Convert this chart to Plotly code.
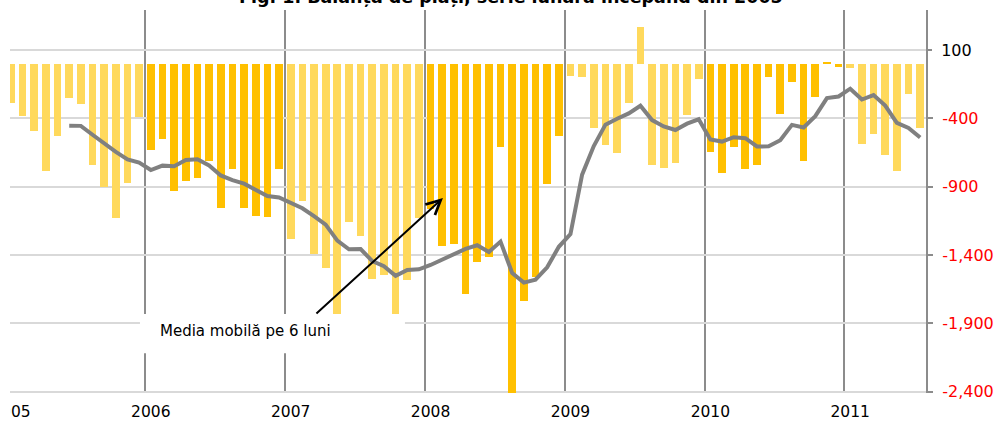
import plotly.graph_objects as go

# ---- data (million EUR) ----
years = ["2005", "2006", "2007", "2008", "2009", "2010", "2011"]

bal_2005 = [-290, -383, -492, -787, -527, -249, -295, -739, -905, -1131, -870, -390]
bal_2006 = [-629, -549, -929, -858, -834, -710, -1054, -773, -1054, -1112, -1119, -768]
bal_2007 = [-1283, -1005, -1392, -1493, -1840, -1156, -1261, -1575, -1546, -1940, -1583, -1131]
bal_2008 = [-1060, -1332, -1322, -1687, -1453, -1417, -607, -2700, -1734, -1558, -883, -527]
bal_2009 = [-88, -95, -473, -595, -656, -285, 266, -744, -761, -724, -373, -110]
bal_2010 = [-644, -797, -607, -768, -741, -95, -368, -132, -710, -241, 12, -22]
bal_2011 = [-29, -590, -517, -666, -783, -224, -468]

# 6-month moving average, from June 2005 onwards
moving_avg = [
    -454, -455, -520, -587, -645, -700, -723,
    -778, -746, -750, -705, -700, -745, -818, -852, -878, -924, -969, -979,
    -1016, -1058, -1116, -1178, -1295, -1358, -1357, -1445, -1482, -1553, -1510, -1505,
    -1473, -1435, -1398, -1355, -1329, -1378, -1302, -1532, -1602, -1581, -1490, -1340,
    -1247, -812, -603, -446, -403, -364, -308, -413, -459, -485, -439, -407,
    -555, -570, -538, -545, -606, -605, -560, -448, -467, -384, -252, -240,
    -183, -262, -230, -306, -433, -470, -540,
]

pos_tickvals = [100]
pos_ticklabels = ["100"]
neg_tickvals = [-400, -900, -1400, -1900, -2400]
neg_ticklabels = ["-400", "-900", "-1,400", "-1,900", "-2,400"]

title_text = "Fig. 1. Balanța de plăți, serie lunară începând din 2005"
note_text = "Media mobilă pe 6 luni"

# ---- build series ----
LIGHT = "#FFD95C"
DARK = "#FFC000"
per_year = [bal_2005, bal_2006, bal_2007, bal_2008, bal_2009, bal_2010, bal_2011]
values, colors = [], []
for k, arr in enumerate(per_year):
    values += arr
    colors += [LIGHT if k % 2 == 0 else DARK] * len(arr)
idx = list(range(len(values)))
ma_x = idx[len(idx) - len(moving_avg):]

year_pos = [12 * k for k in range(len(years))]
year_bounds = [12 * k - 0.5 for k in range(1, len(years))]
month_bounds = [i + 0.5 for i in idx[:-1]]

FONT = "DejaVu Sans"
GRAY = "#8c8c8c"
GRID = "#d9d9d9"
XR = [-0.08, 78.5]
YR = [-2410, 393]

fig = go.Figure()
fig.add_trace(go.Bar(x=idx, y=values, width=0.66,
                     marker=dict(color=colors, line=dict(width=0)),
                     hoverinfo="skip", showlegend=False))
fig.add_trace(go.Scatter(x=ma_x, y=moving_avg, mode="lines",
                         line=dict(color="#808080", width=4),
                         hoverinfo="skip", showlegend=False))
# empty trace so the secondary (black "100") axis is rendered
fig.add_trace(go.Scatter(x=[None], y=[None], yaxis="y2", mode="lines",
                         hoverinfo="skip", showlegend=False))

zero_pos = (0 - YR[0]) / (YR[1] - YR[0])

yaxis_common = dict(range=YR, side="right", tickmode="array",
                    showgrid=True, gridcolor=GRID, gridwidth=2, zeroline=False,
                    ticks="outside", ticklen=5, tickwidth=2, tickcolor=GRAY,
                    automargin=False, ticklabelstandoff=6)

fig.update_layout(
    width=998, height=423,
    margin=dict(l=10, r=72, t=10, b=30, pad=0, autoexpand=False),
    paper_bgcolor="white", plot_bgcolor="white",
    showlegend=False, bargap=0,
    font=dict(family=FONT, size=15, color="black"),
    xaxis=dict(range=XR, tickmode="array", tickvals=year_pos, ticktext=years,
               ticks="", showline=False, showgrid=False, zeroline=False,
               automargin=False,
               tickfont=dict(family=FONT, size=15.5, color="black"),
               ticklabelstandoff=7, ticklabeloverflow="allow",
               minor=dict(tickmode="array", tickvals=year_bounds, showgrid=True,
                          gridcolor=GRAY, gridwidth=2, ticks="")),
    xaxis2=dict(range=XR, overlaying="x", anchor="free", position=zero_pos,
                side="bottom", tickmode="array", tickvals=month_bounds,
                ticks="outside", ticklen=4, tickwidth=2, tickcolor=GRAY,
                showticklabels=False, showline=True, linecolor=GRAY, linewidth=2,
                showgrid=False, zeroline=False, automargin=False),
    yaxis=dict(tickvals=neg_tickvals, ticktext=neg_ticklabels,
               showline=True, linecolor=GRAY, linewidth=2,
               tickfont=dict(family=FONT, size=16, color="#ff0000"),
               **yaxis_common),
    yaxis2=dict(overlaying="y", anchor="x", tickvals=pos_tickvals, ticktext=pos_ticklabels,
                showline=False,
                tickfont=dict(family=FONT, size=16, color="black"),
                **yaxis_common),
)

# white label box (covers grid lines, as in the reference)
fig.add_shape(type="rect", xref="x", yref="y", x0=11.07, x1=33.8, y0=-1831, y1=-2120,
              fillcolor="white", line=dict(width=0), layer="above")
# the chart area clips the first year label at its left edge
fig.add_shape(type="rect", xref="paper", yref="paper", x0=-0.02, x1=0.0005,
              y0=-0.09, y1=-0.006, fillcolor="white", line=dict(width=0), layer="above")

fig.add_annotation(xref="x", yref="y", x=20.08, y=-1955, text=note_text,
                   showarrow=False, font=dict(family=FONT, size=15, color="black"))
fig.add_annotation(xref="x", yref="y", x=37.06, y=-983, axref="x", ayref="y",
                   ax=26.08, ay=-1839, text="", showarrow=True, arrowhead=5,
                   arrowsize=1.4, arrowwidth=2, arrowcolor="black", standoff=0)
fig.add_annotation(xref="paper", yref="paper", x=(511 - 10) / 916, y=1.003,
                   xanchor="center", yanchor="bottom", text="<b>" + title_text + "</b>",
                   showarrow=False, font=dict(family=FONT, size=17.5, color="black"))

fig.write_html("out.html", config={"displayModeBar": False},
               post_script="document.body.style.margin='0';document.body.style.overflow='hidden';")
